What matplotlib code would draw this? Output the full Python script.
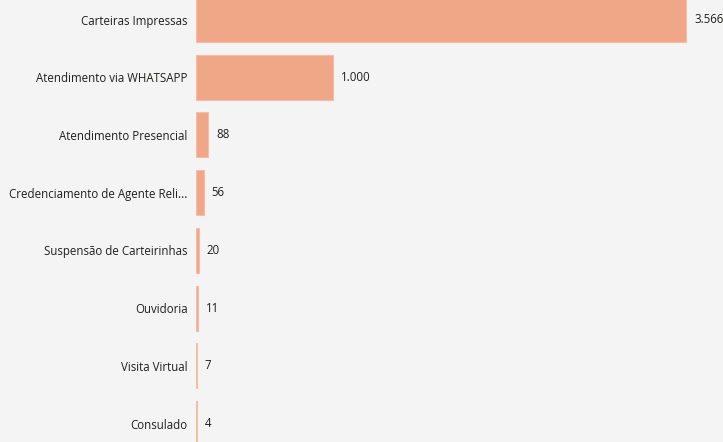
import matplotlib
matplotlib.use("Agg")
import matplotlib.pyplot as plt
from matplotlib.transforms import offset_copy

categories = [
    "Carteiras Impressas",
    "Atendimento via WHATSAPP",
    "Atendimento Presencial",
    "Credenciamento de Agente Reli...",
    "Suspensão de Carteirinhas",
    "Ouvidoria",
    "Visita Virtual",
    "Consulado",
]
values = [3566, 1000, 88, 56, 20, 11, 7, 4]

def fmt(v):
    return f"{v:,}".replace(",", ".")

plt.rcParams['font.family'] = ['Open Sans', 'DejaVu Sans']

W, H = 723, 442
fig = plt.figure(figsize=(W / 100, H / 100), dpi=100)
bg = "#F4F4F4"
fig.patch.set_facecolor(bg)
ax = fig.add_axes([196 / W, 0, (W - 196) / W, 1])
ax.set_facecolor(bg)

ypos = list(range(len(categories)))
ax.barh(ypos, values, height=0.78, color="#F0A787", edgecolor="#F4BDA5", linewidth=0.8)

ax.set_xlim(0, 3835)
ax.set_ylim(7.32, -0.338)

for s in ax.spines.values():
    s.set_visible(False)
ax.set_xticks([])
ax.set_yticks(ypos)
ax.set_yticklabels(categories, fontsize=8.3, color="#201F1E")
ax.tick_params(axis="y", length=0, pad=6)

for y, v in zip(ypos, values):
    tr = offset_copy(ax.transData, fig=fig, x=8, y=0, units="dots")
    ax.text(v, y, fmt(v), transform=tr, va="center", ha="left",
            fontsize=8.3, color="#201F1E", clip_on=False)

fig.savefig("out.png", dpi=100, facecolor=bg)
